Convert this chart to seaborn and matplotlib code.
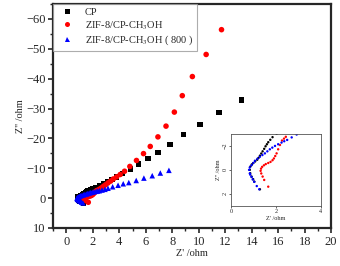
import numpy as np
import pandas as pd
import matplotlib
matplotlib.use("Agg")
import matplotlib.pyplot as plt
from matplotlib.ticker import MultipleLocator
import seaborn as sns

# Nyquist data (Z' and Z'' in ohm)
cp_re = [1.29, 1.04, 0.99, 0.92, 0.86, 0.84, 0.87, 0.93, 0.99, 1.08, 1.17, 1.23, 1.29,
         1.35, 1.41, 1.48, 1.54, 1.60, 1.66, 1.75, 1.85, 2.03, 2.25, 2.50, 2.80, 3.10,
         3.45, 3.80, 4.25, 4.85, 5.45, 6.16, 6.94, 7.83, 8.84, 10.08, 11.52, 13.23]
cp_im = [1.62, 0.98, 0.78, 0.56, 0.28, 0.00, -0.28, -0.45, -0.56, -0.70, -0.84, -1.00, -1.18,
         -1.36, -1.54, -1.75, -1.96, -2.13, -2.30, -2.50, -2.72, -3.00, -3.50, -4.10, -4.80, -5.50,
         -6.30, -7.10, -8.20, -9.70, -11.4, -13.3, -15.3, -18.0, -21.3, -24.6, -28.7, -32.8]

zif_re = [1.66, 1.48, 1.41, 1.35, 1.32, 1.34, 1.39, 1.47, 1.55, 1.66, 1.76, 1.85, 1.91, 1.97,
          2.03, 2.10, 2.18, 2.27, 2.36, 2.44, 2.55, 2.68, 2.82, 2.98, 3.15, 3.35, 3.55, 3.80,
          4.07, 4.40, 4.80, 5.30, 5.83, 6.34, 6.92, 7.53, 8.16, 8.76, 9.52, 10.56, 11.72]
zif_im = [1.40, 0.84, 0.56, 0.30, 0.08, -0.10, -0.25, -0.38, -0.48, -0.57, -0.66, -0.80, -0.95, -1.15,
          -1.37, -1.71, -2.07, -2.44, -2.60, -2.75, -3.10, -3.50, -4.00, -4.50, -5.10, -5.70, -6.40, -7.10,
          -7.90, -9.00, -10.6, -12.6, -14.9, -17.3, -20.5, -24.1, -28.8, -34.3, -40.7, -48.1, -56.4]

zif800_re = [1.26, 1.15, 1.04, 0.97, 0.92, 0.86, 0.84, 0.81, 0.84, 0.92, 1.00, 1.07, 1.18, 1.29,
             1.40, 1.51, 1.62, 1.73, 1.84, 1.96, 2.10, 2.25, 2.37, 2.50, 2.70, 2.92, 3.15, 3.50,
             3.91, 4.30, 4.72, 5.28, 5.86, 6.49, 7.10, 7.75]
zif800_im = [1.62, 1.35, 1.00, 0.80, 0.60, 0.40, 0.30, 0.00, -0.20, -0.39, -0.58, -0.76, -0.92, -1.09,
             -1.23, -1.37, -1.54, -1.71, -1.85, -1.99, -2.13, -2.27, -2.38, -2.49, -2.70, -2.94, -3.30, -3.80,
             -4.30, -4.80, -5.20, -5.90, -6.70, -7.50, -8.40, -9.30]

labels = ["CP", "ZIF-8/CP-CH$_3$OH", "ZIF-8/CP-CH$_3$OH ( 800 )"]
colors = ["black", "#ff0000", "#0000ff"]
markers = ["s", "o", "^"]

df = pd.concat([
    pd.DataFrame({"re": cp_re, "im": cp_im, "sample": labels[0]}),
    pd.DataFrame({"re": zif_re, "im": zif_im, "sample": labels[1]}),
    pd.DataFrame({"re": zif800_re, "im": zif800_im, "sample": labels[2]}),
], ignore_index=True)

sns.set_style("ticks")
plt.rcParams["font.family"] = ["Liberation Serif", "DejaVu Serif"]
plt.rcParams["mathtext.fontset"] = "stix"

fig = plt.figure(figsize=(3.4, 2.66), dpi=100)
ax = fig.add_axes([0.156, 0.143, 0.818, 0.842])

sns.scatterplot(data=df, x="re", y="im", hue="sample", style="sample",
                palette=dict(zip(labels, colors)), markers=dict(zip(labels, markers)),
                s=16, linewidth=0, ax=ax)

ax.set_xlim(-1, 20)
ax.set_ylim(10, -65)
ax.xaxis.set_major_locator(MultipleLocator(2))
ax.xaxis.set_minor_locator(MultipleLocator(1))
ax.yaxis.set_major_locator(MultipleLocator(10))
ax.yaxis.set_minor_locator(MultipleLocator(5))
ax.set_xticks(range(0, 21, 2))
ax.tick_params(which="major", length=3.5, width=1.2, labelsize=9, pad=2)
ax.tick_params(which="minor", length=2, width=1.0)
for sp in ax.spines.values():
    sp.set_linewidth(1.6)
ax.set_xlabel("Z' /ohm", fontsize=7.5, labelpad=1)
ax.set_ylabel("Z'' /ohm", fontsize=7.5, labelpad=1)

leg = ax.legend(loc="upper left", borderaxespad=0, fontsize=7.5, frameon=True,
                fancybox=False, edgecolor="#999999", handletextpad=0.7,
                borderpad=0.35, labelspacing=0.2, markerscale=0.9)
leg.get_frame().set_linewidth(0.8)

# inset zoom on the high-frequency region
axin = fig.add_axes([0.679, 0.226, 0.265, 0.271])
sns.scatterplot(data=df, x="re", y="im", hue="sample",
                palette=dict(zip(labels, colors)), s=3, linewidth=0,
                legend=False, ax=axin)
axin.set_xlim(0, 4)
axin.set_ylim(3, -3)
axin.set_xticks([0, 2, 4])
axin.set_yticks([-2, 0, 2])
axin.tick_params(labelsize=4.5, length=1.5, width=0.5, pad=1)
for t in axin.get_yticklabels():
    t.set_rotation(90)
    t.set_va("center")
for sp in axin.spines.values():
    sp.set_linewidth(0.6)
    sp.set_color("#555555")
axin.set_xlabel("Z' /ohm", fontsize=4.5, labelpad=1)
axin.set_ylabel("Z'' /ohm", fontsize=4.5, labelpad=1)

fig.savefig("out.png", dpi=100)
